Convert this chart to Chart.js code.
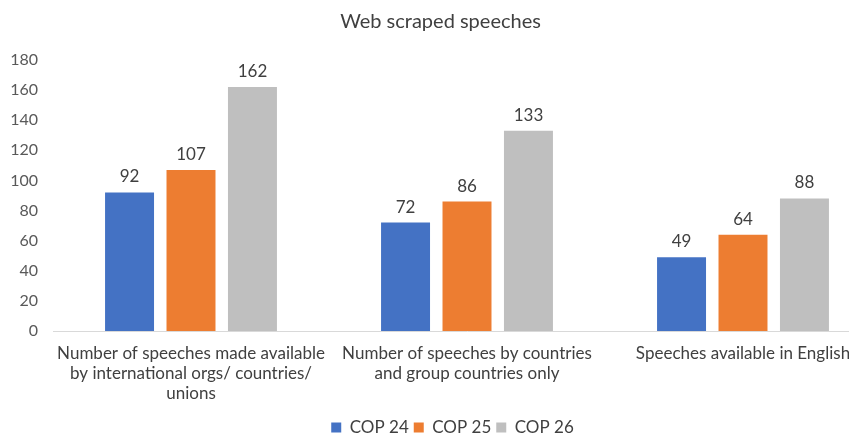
<!DOCTYPE html>
<html>
<head>
<meta charset="utf-8">
<title>Web scraped speeches</title>
<script src="https://cdn.jsdelivr.net/npm/chart.js@4.4.1/dist/chart.umd.min.js"></script>
<style>
  html, body { margin: 0; padding: 0; background: #fff; overflow: hidden; }
  #wrap { position: relative; width: 900px; height: 446px; }
</style>
</head>
<body>
<div id="wrap"><canvas id="speechChart"></canvas></div>
<script>
// categorias (quebradas em linhas como no eixo)
const categories = [
    ['Number of speeches made available', 'by international orgs/ countries/', 'unions'],
    ['Number of speeches by countries', 'and group countries only'],
    'Speeches available in English'
];
const seriesNames = ['COP 24', 'COP 25', 'COP 26'];
const cop24 = [92, 72, 49];
const cop25 = [107, 86, 64];
const cop26 = [162, 133, 88];
const yTicks = [0, 20, 40, 60, 80, 100, 120, 140, 160, 180];

const colors = ['#4472C4', '#ED7D31', '#BFBFBF'];
const FONT = 'Lato, "Noto Sans", sans-serif';

// rótulos de valor em cima de cada barra
const valueLabels = {
    id: 'valueLabels',
    afterDatasetsDraw(chart) {
        const ctx = chart.ctx;
        ctx.save();
        ctx.font = '17px ' + FONT;
        ctx.fillStyle = '#404040';
        ctx.textAlign = 'center';
        ctx.textBaseline = 'bottom';
        chart.data.datasets.forEach((ds, i) => {
            chart.getDatasetMeta(i).data.forEach((bar, j) => {
                ctx.fillText(ds.data[j], bar.x, bar.y - 7);
            });
        });
        ctx.restore();
    }
};

// legenda centrada na largura total (sem o padding da direita)
const legendShift = {
    id: 'legendShift',
    afterLayout(chart) {
        if (!chart.legend) return;
        chart.legend.left += 12;
        chart.legend.right += 12;
    }
};

const ctx = document.getElementById('speechChart').getContext('2d');
new Chart(ctx, {
    type: 'bar',
    data: {
        labels: categories,
        datasets: [cop24, cop25, cop26].map((values, i) => ({
            label: seriesNames[i],
            data: values,
            backgroundColor: colors[i],
            categoryPercentage: 0.668,
            barPercentage: 0.797
        }))
    },
    options: {
        responsive: true,
        maintainAspectRatio: false,
        animation: false,
        layout: { padding: { left: 0, right: 19, top: 0, bottom: 0 } },
        plugins: {
            title: {
                display: true,
                text: 'Web scraped speeches',
                color: '#404040',
                font: { family: FONT, size: 20, weight: 'normal' },
                padding: { top: 10, bottom: 26 }
            },
            legend: {
                position: 'bottom',
                labels: {
                    color: '#404040',
                    font: { family: FONT, size: 17 },
                    boxWidth: 10,
                    boxHeight: 10,
                    padding: 5
                }
            },
            tooltip: { enabled: false }
        },
        scales: {
            x: {
                afterFit(scale) {
                    scale.height = 83;
                },
                grid: { display: false, drawTicks: false },
                border: { display: true, color: '#D9D9D9', width: 1 },
                ticks: {
                    color: '#404040',
                    font: { family: FONT, size: 17, lineHeight: 1.18 },
                    padding: 12,
                    maxRotation: 0,
                    autoSkip: false
                }
            },
            y: {
                min: 0,
                max: 180,
                afterBuildTicks(scale) {
                    scale.ticks = yTicks.map(v => ({ value: v }));
                },
                afterFit(scale) {
                    scale.width = 53;
                },
                grid: { display: false, drawTicks: false },
                border: { display: false },
                ticks: {
                    color: '#595959',
                    font: { family: FONT, size: 16 },
                    padding: 15
                }
            }
        }
    },
    plugins: [valueLabels, legendShift]
});
</script>
</body>
</html>
